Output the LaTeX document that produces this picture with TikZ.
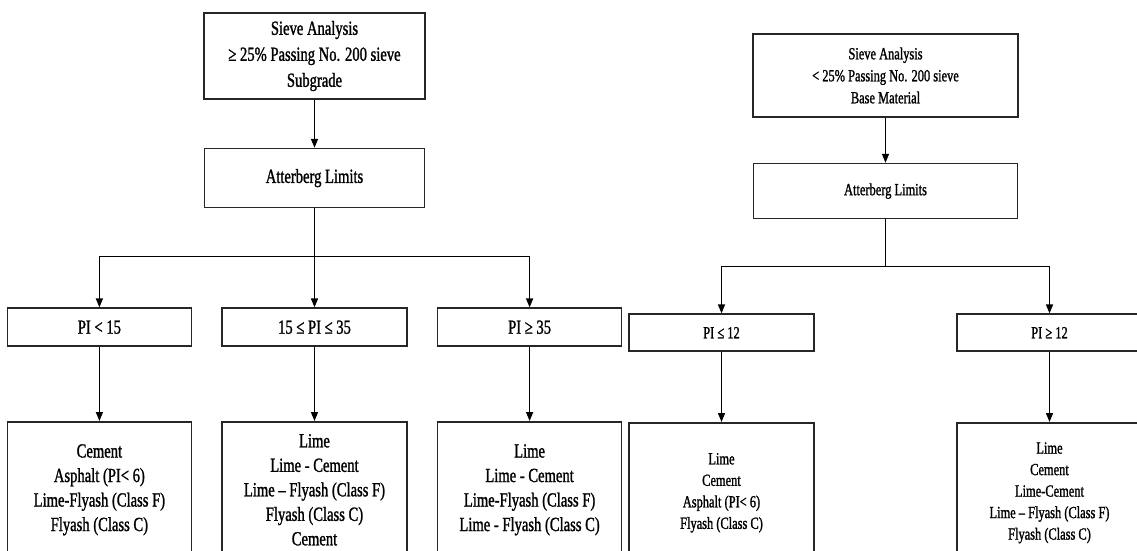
\documentclass[tikz,border=0pt]{standalone}
\usepackage{fontspec}
\setmainfont{Liberation Serif}[FakeStretch=0.73, FakeBold=1.2]
\usepackage{tikz}
\usetikzlibrary{arrows.meta,positioning}

\begin{document}
\begin{tikzpicture}[x=1pt, y=1pt, every node/.style={font=\fontsize{20}{24.5}\selectfont}, box/.style={draw=black!85, line width=1.6pt, align=center, inner sep=0pt, fill=white}, pibox/.style={box, minimum width=184pt, minimum height=38pt}, leafbox/.style={box, minimum width=184pt, minimum height=136pt}, small/.style={font=\fontsize{17}{21.5}\selectfont}, arr/.style={-{Triangle[width=7pt,length=9pt]}, line width=1.5pt}, ln/.style={line width=1.5pt}]
\useasboundingbox (0,0) rectangle (1137,-551);
\clip (0,0) rectangle (1137,-551);
\node[box, minimum width=221pt, minimum height=86pt, font=\fontsize{20}{26}\selectfont] (sieveL) at (314.5,-56) {Sieve Analysis\\≥ 25\% Passing No. 200 sieve\\Subgrade};
\node[box, minimum width=220pt, minimum height=59pt, below=48pt of sieveL] (attL) {Atterberg Limits};
\node[pibox, minimum width=185pt, below=99pt of attL] (piB) {15 ≤ PI ≤ 35};
\node[pibox, left=29pt of piB] (piA) {PI < 15};
\node[pibox, right=29pt of piB] (piC) {PI ≥ 35};
\node[leafbox, below=74pt of piA] (botA) {Cement\\Asphalt (PI< 6)\\Lime-Flyash (Class F)\\Flyash (Class C)};
\node[leafbox, minimum width=185pt, below=74pt of piB] (botB) {Lime\\Lime - Cement\\Lime – Flyash (Class F)\\Flyash (Class C)\\Cement};
\node[leafbox, below=74pt of piC] (botC) {Lime\\Lime - Cement\\Lime-Flyash (Class F)\\Lime - Flyash (Class C)};
\node[box, small, minimum width=265pt, minimum height=83pt, font=\fontsize{17}{22}\selectfont] (sieveR) at (885.5,-75.5) {Sieve Analysis\\< 25\% Passing No. 200 sieve\\Base Material};
\node[box, small, minimum width=264pt, minimum height=55pt, below=45pt of sieveR] (attR) {Atterberg Limits};
\node[pibox, small, minimum width=185pt, minimum height=37pt, below=94pt of attR, xshift=-164pt] (piD) {PI ≤ 12};
\node[pibox, small, minimum width=185pt, minimum height=37pt, below=94pt of attR, xshift=164pt] (piE) {PI ≥ 12};
\node[leafbox, small, minimum width=185pt, minimum height=140pt, below=70pt of piD] (botD) {Lime\\Cement\\Asphalt (PI< 6)\\Flyash (Class C)};
\node[leafbox, small, minimum width=185pt, minimum height=140pt, below=70pt of piE] (botE) {Lime\\Cement\\Lime-Cement\\Lime – Flyash (Class F)\\Flyash (Class C)};
\coordinate (jL) at ([yshift=-48pt]attL.south);
\coordinate (jR) at ([yshift=-47pt]attR.south);
\draw[arr] (sieveL) -- (attL);
\draw[ln] (attL) -- (jL);
\draw[arr] (jL) -| (piA);
\draw[arr] (jL) -- (jL |- piB.north);
\draw[arr] (jL) -| (piC);
\draw[arr] (piA) -- (botA);
\draw[arr] (piB) -- (botB);
\draw[arr] (piC) -- (botC);
\draw[arr] (sieveR) -- (attR);
\draw[ln] (attR) -- (jR);
\draw[arr] (jR) -| (piD);
\draw[arr] (jR) -| (piE);
\draw[arr] (piD) -- (botD);
\draw[arr] (piE) -- (botE);
\end{tikzpicture}
\end{document}
